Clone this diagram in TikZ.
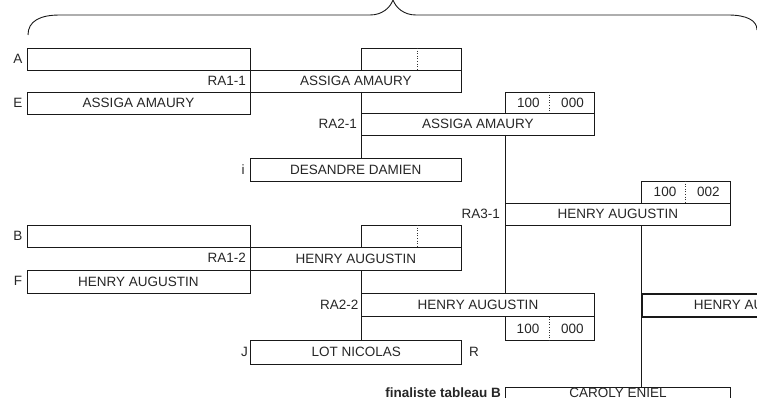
\documentclass[tikz,border=0pt]{standalone}
\usepackage{fontspec}
\setmainfont{Liberation Sans}
\newcommand{\fs}{\fontsize{13.5}{16}\selectfont}
\tikzset{
  box/.style={draw=black!90, line width=0.9pt, anchor=north west, inner sep=0pt, outer sep=0pt, font=\fs, text=black!85},
  thickbox/.style={box, line width=2pt},
  lbl/.style={inner sep=0pt, font=\fs, text=black!85},
  divline/.style={draw=black!80, line width=0.6pt, dotted},
  conn/.style={draw=black!90, line width=0.9pt},
}
\begin{document}
\begin{tikzpicture}[x=1pt,y=-1pt]
\useasboundingbox (0,0) rectangle (757,398);
\clip (0,0) rectangle (757,398);
% brace
\draw[conn] (28,35) .. controls (28,21) and (40,15) .. (60,15) -- (370,15)
  .. controls (382,15) and (390,8) .. (393,0)
  .. controls (396,8) and (404,15) .. (416,15) -- (728,15)
  .. controls (746,15) and (757,20) .. (757,30);

% round 1 - top
\node[box, minimum width=223pt, minimum height=22pt] (A) at (27,48) {};
\node[box, minimum width=223pt, minimum height=22pt] (E) at (27,92) {ASSIGA AMAURY};
\node[box, minimum width=211.7pt, minimum height=22pt] (r11) at (250,70) {ASSIGA AMAURY};
\node[box, minimum width=100pt, minimum height=22pt] (s11) at (361.7,48) {};
\draw[divline] ([xshift=56pt]s11.north west) -- ([xshift=56pt]s11.south west);
\node[lbl, anchor=center] (la) at (18,59) {A};
\node[lbl, anchor=center] (le) at (18,103) {E};
\node[lbl, anchor=east] (lra11) at (246,81) {RA1-1};

% round 2 - top
\node[box, minimum width=88.7pt, minimum height=21pt] (r21s) at (505.3,92) {};
\draw[divline] ([xshift=43.7pt]r21s.north west) -- ([xshift=43.7pt]r21s.south west);
\node[lbl] (r21a) at ([xshift=23pt]r21s.west) {100};
\node[lbl] (r21b) at ([xshift=-21.5pt]r21s.east) {000};
\node[box, minimum width=232.3pt, minimum height=22pt] (r21) at (361.7,113) {ASSIGA AMAURY};
\node[lbl, anchor=east] (lra21) at (357,124) {RA2-1};
\node[box, minimum width=211.7pt, minimum height=23pt] (I) at (250,158) {DESANDRE DAMIEN};
\node[lbl, anchor=center] (li) at (243,170) {i};
\draw[conn] (r21.north west |- r11.south) -- (r21.north west |- I.north);

% round 3
\node[box, minimum width=88.6pt, minimum height=22pt] (r31s) at (641.7,181) {};
\draw[divline] ([xshift=43.6pt]r31s.north west) -- ([xshift=43.6pt]r31s.south west);
\node[lbl] (r31a) at ([xshift=23.3pt]r31s.west) {100};
\node[lbl] (r31b) at ([xshift=-22pt]r31s.east) {002};
\node[box, minimum width=225pt, minimum height=22pt] (r31) at (505.3,203) {HENRY AUGUSTIN};
\node[lbl, anchor=east] (lra31) at (500,214) {RA3-1};

% round 1 - bottom
\node[box, minimum width=223pt, minimum height=22.3pt] (B) at (27,225) {};
\node[box, minimum width=100pt, minimum height=22.3pt] (s12) at (361.7,225) {};
\draw[divline] ([xshift=56pt]s12.north west) -- ([xshift=56pt]s12.south west);
\node[box, minimum width=211.7pt, minimum height=22.7pt] (r12) at (250,247.3) {HENRY AUGUSTIN};
\node[box, minimum width=223pt, minimum height=23pt] (F) at (27,270) {HENRY AUGUSTIN};
\node[lbl, anchor=center] (lb) at (18,236) {B};
\node[lbl, anchor=center] (lf) at (18,281) {F};
\node[lbl, anchor=east] (lra12) at (246,258) {RA1-2};

% round 2 - bottom
\node[box, minimum width=232.6pt, minimum height=23pt] (r22) at (361.7,293.5) {HENRY AUGUSTIN};
\node[box, minimum width=88.8pt, minimum height=24pt] (r22s) at (505.5,316.5) {};
\draw[divline] ([xshift=43.7pt]r22s.north west) -- ([xshift=43.7pt]r22s.south west);
\node[lbl] (r22a) at ([xshift=22.5pt]r22s.west) {100};
\node[lbl] (r22b) at ([xshift=-22pt]r22s.east) {000};
\node[lbl, anchor=east] (lra22) at (358.5,305) {RA2-2};
\node[box, minimum width=211.3pt, minimum height=23.4pt] (J) at (250.5,340.6) {LOT NICOLAS};
\node[lbl, anchor=center] (lj) at (244.5,352) {J};
\node[lbl, anchor=west] (lr) at (469,352) {R};
\draw[conn] (r22.north west |- r12.south) -- (r22.north west |- J.north);

% connector round 2 -> final
\draw[conn] (r31.north west |- r21.south) -- (r31.north west |- r22.north);

% final
\node[thickbox, minimum width=225pt, minimum height=23pt] (hau) at (641.6,293.5) {HENRY AUGUSTIN};
\node[box, minimum width=225pt, minimum height=22pt, text height=9.3pt, text depth=10.1pt] (caroly) at (505.5,387.2) {CAROLY ENIEL};
\node[lbl, anchor=base east, font=\fs\bfseries] (lfin) at (501,397.8) {finaliste tableau B};
\draw[conn] (hau.north west |- r31.south) -- (hau.north west |- caroly.north);
\end{tikzpicture}
\end{document}
